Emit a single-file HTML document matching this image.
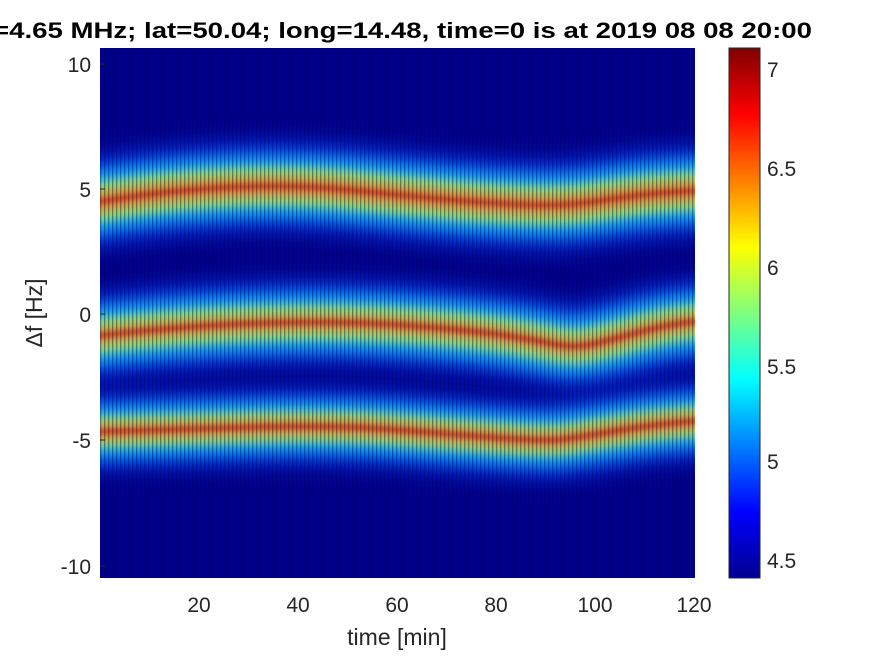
<!DOCTYPE html>
<html><head><meta charset="utf-8"><style>
body{margin:0;background:#fff;}
svg{display:block;font-family:"Liberation Sans",Arial,sans-serif;}
</style></head><body>
<svg width="875" height="656" viewBox="0 0 875 656" xmlns="http://www.w3.org/2000/svg">
<defs>
<filter id="b14" filterUnits="userSpaceOnUse" x="0" y="0" width="875" height="656"><feGaussianBlur stdDeviation="9"/></filter>
<filter id="b8" filterUnits="userSpaceOnUse" x="0" y="0" width="875" height="656"><feGaussianBlur stdDeviation="7"/></filter>
<filter id="b5" filterUnits="userSpaceOnUse" x="0" y="0" width="875" height="656"><feGaussianBlur stdDeviation="5"/></filter>
<filter id="b2" filterUnits="userSpaceOnUse" x="0" y="0" width="875" height="656"><feGaussianBlur stdDeviation="2.5"/></filter>
<pattern id="stripes" width="4" height="8" patternUnits="userSpaceOnUse">
<rect x="0" y="0" width="1.3" height="8" fill="#000060" opacity="0.4"/>
</pattern>
<linearGradient id="jet" x1="0" y1="1" x2="0" y2="0">
<stop offset="0" stop-color="#00008f"/><stop offset="0.125" stop-color="#0000ff"/>
<stop offset="0.375" stop-color="#00ffff"/><stop offset="0.625" stop-color="#ffff00"/>
<stop offset="0.875" stop-color="#ff0000"/><stop offset="1" stop-color="#800000"/>
</linearGradient>
<clipPath id="pc"><rect x="100" y="48" width="595" height="530"/></clipPath>
</defs>
<rect x="100" y="48" width="595" height="530" fill="#00008f"/>
<g clip-path="url(#pc)" fill="none" stroke-linecap="round">
<g>
<path d="M80 205 C150 192 250 180 350 190 S500 205 550 205 S620 192 720 190" stroke="#0030e0" stroke-width="95" filter="url(#b14)" opacity="0.85"/>
<path d="M80 205 C150 192 250 180 350 190 S500 205 550 205 S620 192 720 190" stroke="#10b0ff" stroke-width="66" filter="url(#b8)" opacity="0.9"/>
<path d="M80 205 C150 192 250 180 350 190 S500 205 550 205 S620 192 720 190" stroke="#b0ff50" stroke-width="40" filter="url(#b5)" opacity="0.8"/>
<path d="M80 205 C150 192 250 180 350 190 S500 205 550 205 S620 192 720 190" stroke="#ff7010" stroke-width="20" filter="url(#b5)" opacity="0.8"/>
<path d="M80 205 C150 192 250 180 350 190 S500 205 550 205 S620 192 720 190" stroke="#c00000" stroke-width="5" filter="url(#b2)" opacity="0.55"/>
</g>
<g>
<path d="M80 338 C180 325 300 318 400 325 S520 338 560 345 S640 322 720 320" stroke="#0030e0" stroke-width="90" filter="url(#b14)" opacity="0.85"/>
<path d="M80 338 C180 325 300 318 400 325 S520 338 560 345 S640 322 720 320" stroke="#10b0ff" stroke-width="62" filter="url(#b8)" opacity="0.9"/>
<path d="M80 338 C180 325 300 318 400 325 S520 338 560 345 S640 322 720 320" stroke="#b0ff50" stroke-width="36" filter="url(#b5)" opacity="0.8"/>
<path d="M80 338 C180 325 300 318 400 325 S520 338 560 345 S640 322 720 320" stroke="#ff7010" stroke-width="16" filter="url(#b5)" opacity="0.8"/>
<path d="M80 338 C180 325 300 318 400 325 S520 338 560 345 S640 322 720 320" stroke="#c00000" stroke-width="5" filter="url(#b2)" opacity="0.55"/>
</g>
<g>
<path d="M80 432 C200 430 300 422 400 430 S520 440 550 440 S640 422 720 420" stroke="#0030e0" stroke-width="82" filter="url(#b14)" opacity="0.85"/>
<path d="M80 432 C200 430 300 422 400 430 S520 440 550 440 S640 422 720 420" stroke="#10b0ff" stroke-width="56" filter="url(#b8)" opacity="0.9"/>
<path d="M80 432 C200 430 300 422 400 430 S520 440 550 440 S640 422 720 420" stroke="#b0ff50" stroke-width="32" filter="url(#b5)" opacity="0.8"/>
<path d="M80 432 C200 430 300 422 400 430 S520 440 550 440 S640 422 720 420" stroke="#ff7010" stroke-width="16" filter="url(#b5)" opacity="0.8"/>
<path d="M80 432 C200 430 300 422 400 430 S520 440 550 440 S640 422 720 420" stroke="#c00000" stroke-width="5" filter="url(#b2)" opacity="0.55"/>
</g>
<rect x="100" y="48" width="595" height="530" fill="url(#stripes)" stroke="none"/>
</g>
<g fill="#262626" font-size="21" text-anchor="end">
<text x="91" y="72">10</text><text x="91" y="197">5</text><text x="91" y="322">0</text>
<text x="91" y="448">-5</text><text x="91" y="574">-10</text>
</g>
<g stroke="#262626" stroke-width="1">
<line x1="100" y1="64" x2="105" y2="64"/><line x1="100" y1="189" x2="105" y2="189"/>
<line x1="100" y1="314" x2="105" y2="314"/><line x1="100" y1="440" x2="105" y2="440"/>
<line x1="100" y1="566" x2="105" y2="566"/>
</g>
<g fill="#262626" font-size="21" text-anchor="middle">
<text x="199" y="612">20</text><text x="298" y="612">40</text><text x="397" y="612">60</text>
<text x="496" y="612">80</text><text x="595" y="612">100</text><text x="694" y="612">120</text>
<text x="397" y="645" font-size="23">time [min]</text>
</g>
<text x="-7" y="38" font-size="22" font-weight="bold" fill="#000" textLength="819" lengthAdjust="spacingAndGlyphs">=4.65 MHz;  lat=50.04; long=14.48, time=0 is at 2019 08 08 20:00</text>
<text transform="translate(42 313) rotate(-90)" fill="#262626" font-size="23" text-anchor="middle">Δf [Hz]</text>
<rect x="729" y="48" width="31" height="530" fill="url(#jet)" stroke="#262626" stroke-width="1"/>
<g fill="#262626" font-size="21">
<text x="767" y="77">7</text><text x="767" y="176">6.5</text><text x="767" y="275">6</text>
<text x="767" y="374">5.5</text><text x="767" y="469">5</text><text x="767" y="568">4.5</text>
</g>
</svg>
</body></html>
